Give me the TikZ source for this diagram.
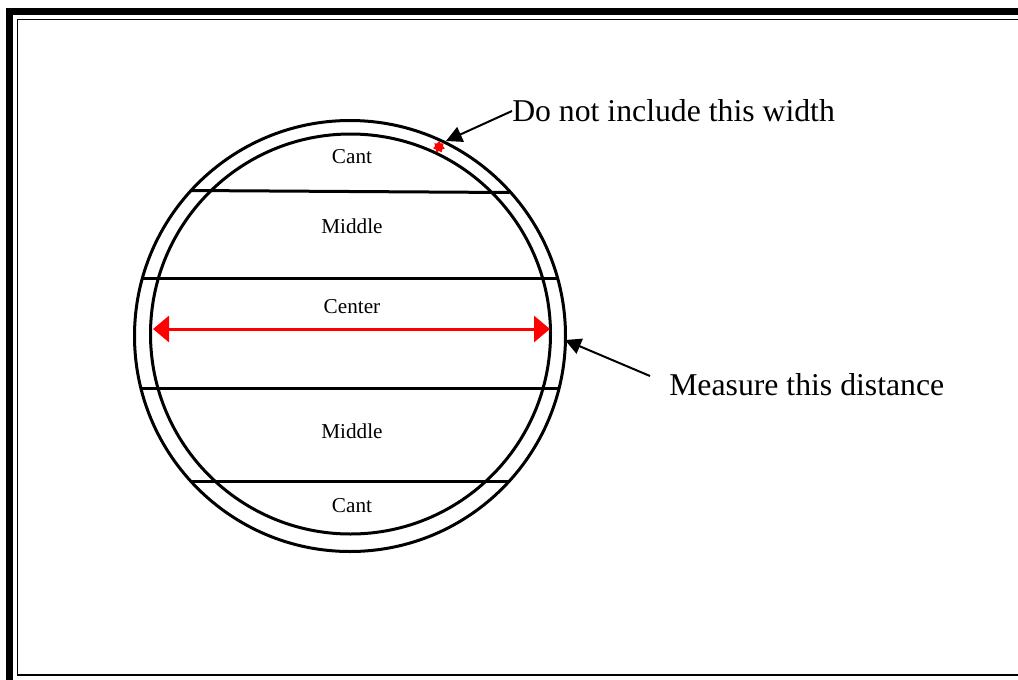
\documentclass[tikz,border=0pt]{standalone}
\usepackage{fontspec}
\setmainfont{Liberation Serif}
\usepackage{tikz}
\usetikzlibrary{arrows.meta,shapes.geometric}
\definecolor{markred}{RGB}{255,0,0}

\begin{document}
\begin{tikzpicture}[
      x=0.75pt, y=-0.75pt,
      rim/.style={draw=black, line width=2.25pt},
      band/.style={draw=black, line width=2.25pt},
      zone/.style={inner sep=0pt, font=\fontsize{15.9}{19}\selectfont},
      callout/.style={inner sep=0pt, anchor=west, font=\fontsize{23.8}{28}\selectfont},
      pointer/.style={-{Triangle[length=12pt, width=12pt]}, line width=1.5pt, draw=black},
      span/.style={{Triangle[length=12pt, width=19.5pt]}-{Triangle[length=12pt, width=19.5pt]},
                   line width=2.25pt, draw=markred}
    ]
      \useasboundingbox (0,0) rectangle (1018,679);
      % page frame
      \draw[line width=5.25pt] (9.5,11.5) rectangle (1040,684);
      \draw[line width=1.2pt] (17.5,19.5) rectangle (1030,675);

      % log rims
      \draw[rim] (350,336) circle [radius=215.5];
      \draw[rim] (350.5,334) circle [radius=200];

      % zone boundaries
      \draw[band] (190.5,190.5) -- (509.5,192.5);
      \draw[band] (142.5,278) -- (557.5,278);
      \draw[band] (141,388) -- (558,388);
      \draw[band] (190.5,481) -- (509.5,481);

      % zone labels
      \node[zone] (cant1) at (352,157) {Cant};
      \node[zone] (mid1) at (352,226) {Middle};
      \node[zone] (ctr) at (352,307) {Center};
      \node[zone] (mid2) at (352,431) {Middle};
      \node[zone] (cant2) at (352,506) {Cant};

      % diameter
      \coordinate (dleft) at (153,329);
      \coordinate (dright) at (550,329);
      \draw[span] (dleft) -- (dright);

      % bark mark
      \node[star, star points=7, fill=markred, inner sep=0pt, minimum size=9pt] (bark) at (439,147) {};

      % callouts
      \node[callout] (skip) at (512,111) {Do not include this width};
      \node[callout] (meas) at (669,385) {Measure this distance};
      \coordinate (skiptip) at (446,141);
      \coordinate (meastail) at (650,376);
      \coordinate (meastip) at (565,340);
      \draw[pointer] (skip.west) -- (skiptip);
      \draw[pointer] (meastail) -- (meastip);
    \end{tikzpicture}
\end{document}
